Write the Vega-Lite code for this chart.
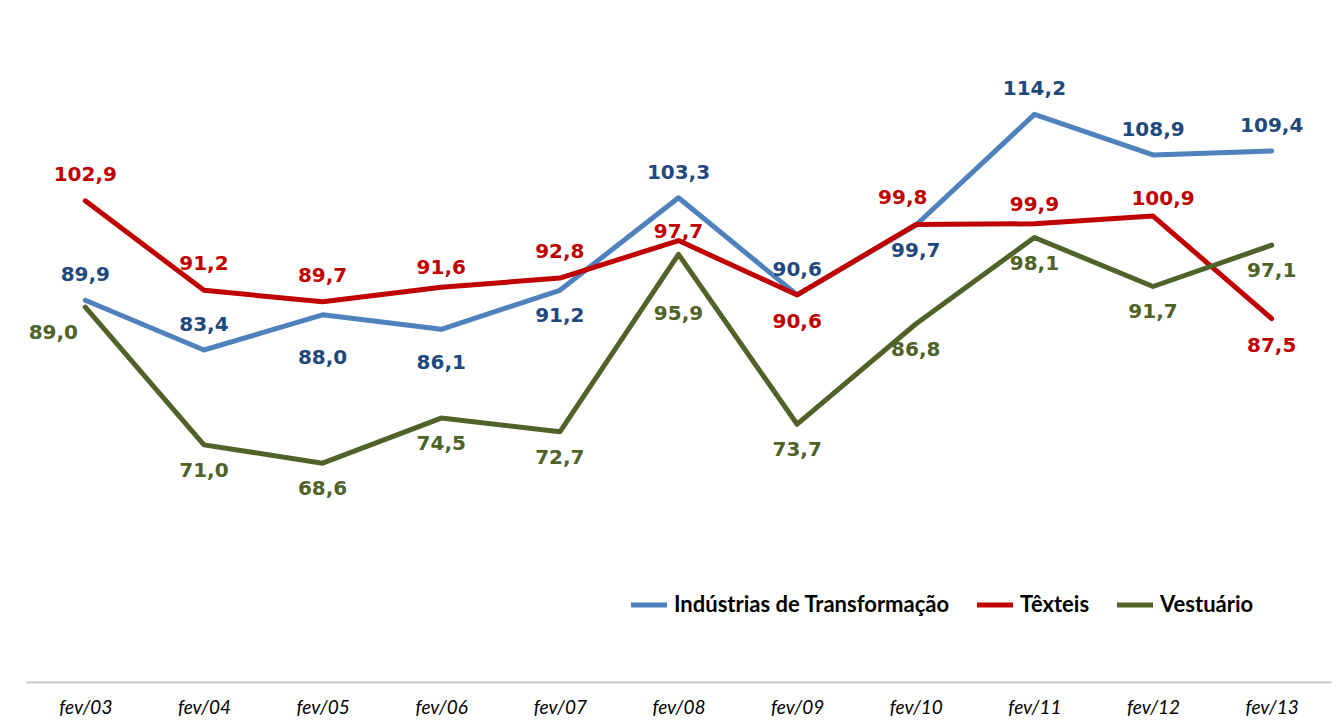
{
  "$schema": "https://vega.github.io/schema/vega-lite/v6.json",
  "width": 1305,
  "height": 612,
  "autosize": {"type": "none"},
  "padding": {"left": 26, "top": 70, "right": 10, "bottom": 42},
  "background": "white",
  "config": {
    "view": {"stroke": null},
    "text": {"font": "DejaVu Sans", "fontWeight": "bold", "fontSize": 20, "baseline": "middle"},
    "locale": {"number": {"decimal": ",", "thousands": ".", "grouping": [3], "currency": ["R$", ""]}}
  },
  "data": {
    "values": [
      {"ano": "fev/03", "serie": "Indústrias de Transformação", "valor": 89.9},
      {"ano": "fev/04", "serie": "Indústrias de Transformação", "valor": 83.4},
      {"ano": "fev/05", "serie": "Indústrias de Transformação", "valor": 88.0},
      {"ano": "fev/06", "serie": "Indústrias de Transformação", "valor": 86.1},
      {"ano": "fev/07", "serie": "Indústrias de Transformação", "valor": 91.2},
      {"ano": "fev/08", "serie": "Indústrias de Transformação", "valor": 103.3},
      {"ano": "fev/09", "serie": "Indústrias de Transformação", "valor": 90.6},
      {"ano": "fev/10", "serie": "Indústrias de Transformação", "valor": 99.7},
      {"ano": "fev/11", "serie": "Indústrias de Transformação", "valor": 114.2},
      {"ano": "fev/12", "serie": "Indústrias de Transformação", "valor": 108.9},
      {"ano": "fev/13", "serie": "Indústrias de Transformação", "valor": 109.4},
      {"ano": "fev/03", "serie": "Têxteis", "valor": 102.9},
      {"ano": "fev/04", "serie": "Têxteis", "valor": 91.2},
      {"ano": "fev/05", "serie": "Têxteis", "valor": 89.7},
      {"ano": "fev/06", "serie": "Têxteis", "valor": 91.6},
      {"ano": "fev/07", "serie": "Têxteis", "valor": 92.8},
      {"ano": "fev/08", "serie": "Têxteis", "valor": 97.7},
      {"ano": "fev/09", "serie": "Têxteis", "valor": 90.6},
      {"ano": "fev/10", "serie": "Têxteis", "valor": 99.8},
      {"ano": "fev/11", "serie": "Têxteis", "valor": 99.9},
      {"ano": "fev/12", "serie": "Têxteis", "valor": 100.9},
      {"ano": "fev/13", "serie": "Têxteis", "valor": 87.5},
      {"ano": "fev/03", "serie": "Vestuário", "valor": 89.0},
      {"ano": "fev/04", "serie": "Vestuário", "valor": 71.0},
      {"ano": "fev/05", "serie": "Vestuário", "valor": 68.6},
      {"ano": "fev/06", "serie": "Vestuário", "valor": 74.5},
      {"ano": "fev/07", "serie": "Vestuário", "valor": 72.7},
      {"ano": "fev/08", "serie": "Vestuário", "valor": 95.9},
      {"ano": "fev/09", "serie": "Vestuário", "valor": 73.7},
      {"ano": "fev/10", "serie": "Vestuário", "valor": 86.8},
      {"ano": "fev/11", "serie": "Vestuário", "valor": 98.1},
      {"ano": "fev/12", "serie": "Vestuário", "valor": 91.7},
      {"ano": "fev/13", "serie": "Vestuário", "valor": 97.1}
    ]
  },
  "encoding": {
    "x": {
      "field": "ano", "type": "ordinal", "sort": null,
      "scale": {"type": "point", "padding": 0.5},
      "axis": {
        "title": null, "labelAngle": 0, "ticks": false,
        "domainColor": "#c8c8c8", "domainWidth": 2,
        "labelFont": "Lato", "labelFontStyle": "italic", "labelFontSize": 19,
        "labelColor": "#000000", "labelPadding": 16, "grid": false
      }
    },
    "y": {
      "field": "valor", "type": "quantitative",
      "scale": {"domain": [40, 120], "zero": false, "nice": false},
      "axis": null
    },
    "text": {"field": "valor", "type": "quantitative", "format": ".1f"}
  },
  "layer": [
    {
      "mark": {"type": "line", "strokeWidth": 5, "strokeCap": "round", "strokeJoin": "round"},
      "encoding": {
        "text": null,
        "color": {
          "field": "serie", "type": "nominal",
          "scale": {
            "domain": ["Indústrias de Transformação", "Têxteis", "Vestuário"],
            "range": ["#4F81BD", "#C00000", "#4F6228"]
          },
          "legend": {
            "title": null, "orient": "none", "direction": "horizontal",
            "legendX": 602, "legendY": 514, "padding": 0,
            "symbolType": "stroke", "symbolStrokeWidth": 5, "symbolSize": 1300,
            "labelFont": "Lato", "labelFontWeight": "bold", "labelFontSize": 22,
            "labelColor": "#000000", "labelOffset": 4, "columnPadding": 16,
            "labelLimit": 400
          }
        }
      }
    },
    {
      "transform": [{"filter": "datum.serie == 'Indústrias de Transformação' && indexof(['fev/03','fev/04','fev/08','fev/09','fev/11','fev/12','fev/13'], datum.ano) >= 0"}],
      "mark": {"type": "text", "fill": "#1F497D", "dy": -25}
    },
    {
      "transform": [{"filter": "datum.serie == 'Indústrias de Transformação' && indexof(['fev/07','fev/10'], datum.ano) >= 0"}],
      "mark": {"type": "text", "fill": "#1F497D", "dy": 26}
    },
    {
      "transform": [{"filter": "datum.serie == 'Indústrias de Transformação' && datum.ano == 'fev/05'"}],
      "mark": {"type": "text", "fill": "#1F497D", "dy": 43}
    },
    {
      "transform": [{"filter": "datum.serie == 'Indústrias de Transformação' && datum.ano == 'fev/06'"}],
      "mark": {"type": "text", "fill": "#1F497D", "dy": 34}
    },
    {
      "transform": [{"filter": "datum.serie == 'Têxteis' && indexof(['fev/03','fev/04','fev/05','fev/07'], datum.ano) >= 0"}],
      "mark": {"type": "text", "fill": "#C00000", "dy": -26}
    },
    {
      "transform": [{"filter": "datum.serie == 'Têxteis' && datum.ano == 'fev/10'"}],
      "mark": {"type": "text", "fill": "#C00000", "dx": -13, "dy": -27}
    },
    {
      "transform": [{"filter": "datum.serie == 'Têxteis' && indexof(['fev/06','fev/11'], datum.ano) >= 0"}],
      "mark": {"type": "text", "fill": "#C00000", "dy": -19}
    },
    {
      "transform": [{"filter": "datum.serie == 'Têxteis' && datum.ano == 'fev/12'"}],
      "mark": {"type": "text", "fill": "#C00000", "dx": 10, "dy": -17}
    },
    {
      "transform": [{"filter": "datum.serie == 'Têxteis' && datum.ano == 'fev/08'"}],
      "mark": {"type": "text", "fill": "#C00000", "dy": -9}
    },
    {
      "transform": [{"filter": "datum.serie == 'Têxteis' && indexof(['fev/09','fev/13'], datum.ano) >= 0"}],
      "mark": {"type": "text", "fill": "#C00000", "dy": 27}
    },
    {
      "transform": [{"filter": "datum.serie == 'Vestuário' && indexof(['fev/03','fev/08'], datum.ano) < 0"}],
      "mark": {"type": "text", "fill": "#4F6228", "dy": 26}
    },
    {
      "transform": [{"filter": "datum.serie == 'Vestuário' && datum.ano == 'fev/08'"}],
      "mark": {"type": "text", "fill": "#4F6228", "dy": 60}
    },
    {
      "transform": [{"filter": "datum.serie == 'Vestuário' && datum.ano == 'fev/03'"}],
      "mark": {"type": "text", "fill": "#4F6228", "dx": -32, "dy": 26}
    }
  ]
}
